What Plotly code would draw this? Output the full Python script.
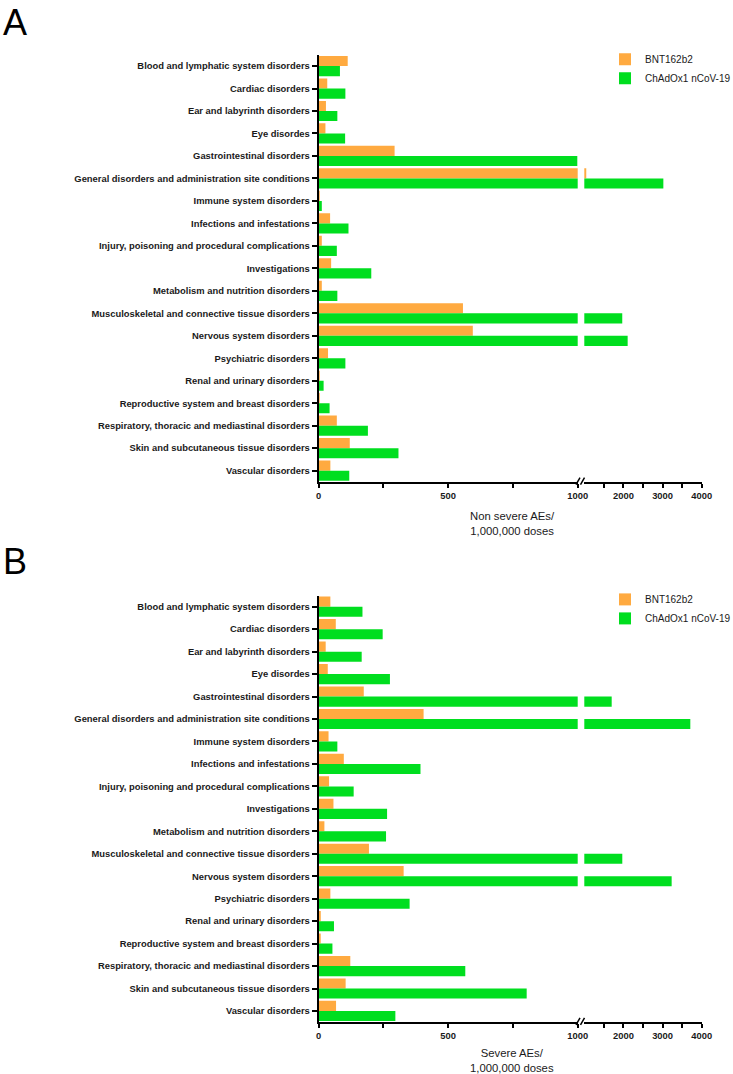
import plotly.graph_objects as go

categories = [
    "Blood and lymphatic system disorders",
    "Cardiac disorders",
    "Ear and labyrinth disorders",
    "Eye disordes",
    "Gastrointestinal disorders",
    "General disorders and administration site conditions",
    "Immune system disorders",
    "Infections and infestations",
    "Injury, poisoning and procedural complications",
    "Investigations",
    "Metabolism and nutrition disorders",
    "Musculoskeletal and connective tissue disorders",
    "Nervous system disorders",
    "Psychiatric disorders",
    "Renal and urinary disorders",
    "Reproductive system and breast disorders",
    "Respiratory, thoracic and mediastinal disorders",
    "Skin and subcutaneous tissue disorders",
    "Vascular disorders",
]

series_names = ["BNT162b2", "ChAdOx1 nCoV-19"]

# Panel A: non severe AEs / 1,000,000 doses
nonsevere_bnt = [112, 33, 28, 26, 293, 1050, 3, 44, 12, 48, 12, 557, 595, 36, 1, 3, 70, 120, 45]
nonsevere_chad = [82, 103, 72, 102, 999, 3020, 12, 115, 70, 203, 72, 1970, 2108, 103, 19, 42, 190, 308, 118]

# Panel B: severe AEs / 1,000,000 doses
severe_bnt = [45, 66, 27, 35, 174, 405, 38, 97, 40, 57, 22, 194, 328, 45, 8, 5, 122, 104, 67]
severe_chad = [169, 247, 166, 275, 1700, 3709, 72, 393, 135, 264, 260, 1971, 3232, 351, 59, 53, 566, 803, 296]

left_ticks = [0, 500, 1000]
right_ticks = [2000, 3000, 4000]
left_minor = [250, 750]
right_minor = [1500, 2500, 3500]

titles = ["Non severe AEs/<br>1,000,000 doses", "Severe AEs/<br>1,000,000 doses"]
panel_letters = ["A", "B"]

W, H = 733, 1074
MT, MB = 12, 16
FONT = "Arial, Liberation Sans, sans-serif"
colors = ["#FFAA40", "#00DE1F"]


def px(x):
    return x / W


def py(y):
    return 1 - (y - MT) / (H - MT - MB)


fig = go.Figure()

x_left_dom = [px(318.7), px(577.7)]
x_right_dom = [px(584.3), px(701.7)]
panels = [
    dict(top=54.8, bot=481.9, data=[nonsevere_bnt, nonsevere_chad], xl="x", xr="x2", y="y",
         legend="legend", title=titles[0], letter=panel_letters[0],
         title_c=523.2, letter_top=0.2, leg_top=44.7),
    dict(top=595.5, bot=1022.2, data=[severe_bnt, severe_chad], xl="x3", xr="x4", y="y2",
         legend="legend2", title=titles[1], letter=panel_letters[1],
         title_c=1060.0, letter_top=539.0, leg_top=584.9),
]

for p in panels:
    for xa in (p["xl"], p["xr"]):
        for i, vals in enumerate(p["data"]):
            fig.add_trace(go.Bar(
                y=categories, x=vals, orientation="h", name=series_names[i],
                marker=dict(color=colors[i], line=dict(width=0)),
                xaxis=xa, yaxis=p["y"], legend=p["legend"],
                showlegend=(xa == p["xl"]),
            ))

axis_common = dict(
    showline=True, linecolor="black", linewidth=2, ticks="outside", ticklen=4,
    tickwidth=2, tickcolor="black", showgrid=False, zeroline=False, automargin=False,
    tickfont=dict(family=FONT, size=9.4, color="#1a1a1a", weight="bold"),
    fixedrange=True,
)

layout = dict(
    width=W, height=H, margin=dict(l=0, r=0, t=MT, b=MB, autoexpand=False),
    paper_bgcolor="white", plot_bgcolor="white",
    barmode="group", bargap=0.1, bargroupgap=0.0,
    font=dict(family=FONT, color="#1a1a1a"),
)

shapes = []
annotations = []
for k, p in enumerate(panels):
    ydom = [py(p["bot"]), py(p["top"])]
    yname = "yaxis" if p["y"] == "y" else "yaxis" + p["y"][1:]
    xl = "xaxis" if p["xl"] == "x" else "xaxis" + p["xl"][1:]
    xr = "xaxis" + p["xr"][1:]
    layout[xl] = dict(axis_common, domain=x_left_dom, range=[0, 1000], anchor=p["y"],
                      tickmode="array", tickvals=left_ticks,
                      minor=dict(tickmode="array", tickvals=left_minor, ticks="outside",
                                 ticklen=4, tickwidth=2, tickcolor="black"))
    layout[xr] = dict(axis_common, domain=x_right_dom, range=[1000, 4000], anchor=p["y"],
                      tickmode="array", tickvals=right_ticks,
                      minor=dict(tickmode="array", tickvals=right_minor, ticks="outside",
                                 ticklen=4, tickwidth=2, tickcolor="black"))
    layout[yname] = dict(
        domain=ydom, anchor=p["xl"], type="category", categoryorder="array",
        categoryarray=categories, autorange="reversed", showline=True, linecolor="black",
        linewidth=2, ticks="outside", ticklen=5, tickwidth=2, tickcolor="black",
        showgrid=False, zeroline=False, fixedrange=True, automargin=False,
        tickfont=dict(family=FONT, size=9.4, color="#1a1a1a", weight="bold"),
    )
    layout[p["legend"]] = dict(
        xref="container", yref="container",
        x=605 / W, y=1 - p["leg_top"] / H, xanchor="left", yanchor="top",
        font=dict(family=FONT, size=10, color="#1a1a1a"), bgcolor="rgba(0,0,0,0)",
        traceorder="normal", tracegroupgap=0,
    )
    # axis break marks
    yb = p["bot"] - 0.8
    for dx in (0, 4.5):
        shapes.append(dict(type="line", xref="paper", yref="paper",
                           x0=px(576 + dx), y0=py(yb + 3.5), x1=px(580 + dx), y1=py(yb - 3.5),
                           line=dict(color="black", width=1.5)))
    annotations.append(dict(
        text=p["title"], xref="paper", yref="paper", x=px(512), y=py(p["title_c"]),
        xanchor="center", yanchor="middle", showarrow=False,
        font=dict(family=FONT, size=11.3, color="#1a1a1a"),
    ))
    annotations.append(dict(
        text=p["letter"], xref="paper", yref="paper", x=px(15), y=py(p["letter_top"]),
        xanchor="center", yanchor="top", showarrow=False,
        font=dict(family=FONT, size=36, color="black"),
    ))

layout["shapes"] = shapes
layout["annotations"] = annotations
fig.update_layout(**layout)

fig.write_html("out.html", config={"displayModeBar": False},
               post_script="document.body.style.margin='0px';")
